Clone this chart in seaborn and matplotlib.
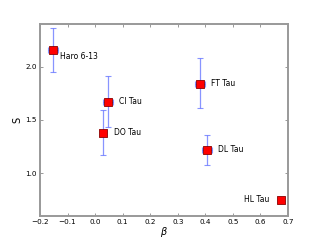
import numpy as np
import pandas as pd
import matplotlib
matplotlib.use('Agg')
import matplotlib.pyplot as plt
import seaborn as sns

sns.set_style('ticks')
plt.rcParams['font.family'] = ['DejaVu Sans']
plt.rcParams['text.color'] = 'black'
plt.rcParams['axes.labelcolor'] = 'black'
plt.rcParams['xtick.labelcolor'] = 'black'
plt.rcParams['ytick.labelcolor'] = 'black'

# data
names = ['Haro 6-13', 'CI Tau', 'DO Tau', 'FT Tau', 'DL Tau', 'HL Tau']
beta = [-0.153, 0.046, 0.028, 0.382, 0.405, 0.673]
S = [2.16, 1.67, 1.38, 1.84, 1.22, 0.75]
beta_err = [0.018, 0.018, 0.012, 0.018, 0.018, 0.0]
S_err_lo = [0.21, 0.24, 0.21, 0.23, 0.14, 0.0]
S_err_hi = [0.20, 0.24, 0.21, 0.24, 0.14, 0.0]
label_side = ['right', 'right', 'right', 'right', 'right', 'left']

df = pd.DataFrame({'name': names, 'beta': beta, 'S': S})

fig = plt.figure(figsize=(3.2, 2.4), dpi=100)
ax = fig.add_axes([0.125, 0.1, 0.775, 0.8])

ax.errorbar(beta, S, xerr=beta_err, yerr=[S_err_lo, S_err_hi], fmt='none',
            ecolor='#6070ff', elinewidth=0.9, capsize=2, capthick=0.8, alpha=0.75)
sns.scatterplot(data=df, x='beta', y='S', marker='s', s=38, color='red',
                edgecolor='#8b0000', linewidth=0.6, ax=ax, zorder=3)

for n, x, y, side in zip(names, beta, S, label_side):
    if n == 'Haro 6-13':
        ax.annotate(n, (x, y), xytext=(5, -5), textcoords='offset points',
                    fontsize=5.5, va='center')
    elif side == 'right':
        ax.annotate(n, (x, y), xytext=(8, 0), textcoords='offset points',
                    fontsize=5.5, va='center')
    else:
        ax.annotate(n, (x, y), xytext=(-8, 0), textcoords='offset points',
                    fontsize=5.5, va='center', ha='right')

ax.set_xlim(-0.2, 0.7)
ax.set_ylim(0.6, 2.4)
ax.set_xticks(np.arange(-0.2, 0.71, 0.1))
ax.set_yticks([1.0, 1.5, 2.0])
ax.set_xlabel(r'$\beta$', fontsize=7, labelpad=0)
ax.set_ylabel('S', fontsize=7, labelpad=2)
ax.tick_params(direction='in', labelsize=5.2, length=2.5, width=0.6,
               top=True, right=True, color='#888888', pad=2.5)
for sp in ax.spines.values():
    sp.set_color('#999999')
    sp.set_linewidth(1.4)

fig.savefig('out.png', dpi=100)
